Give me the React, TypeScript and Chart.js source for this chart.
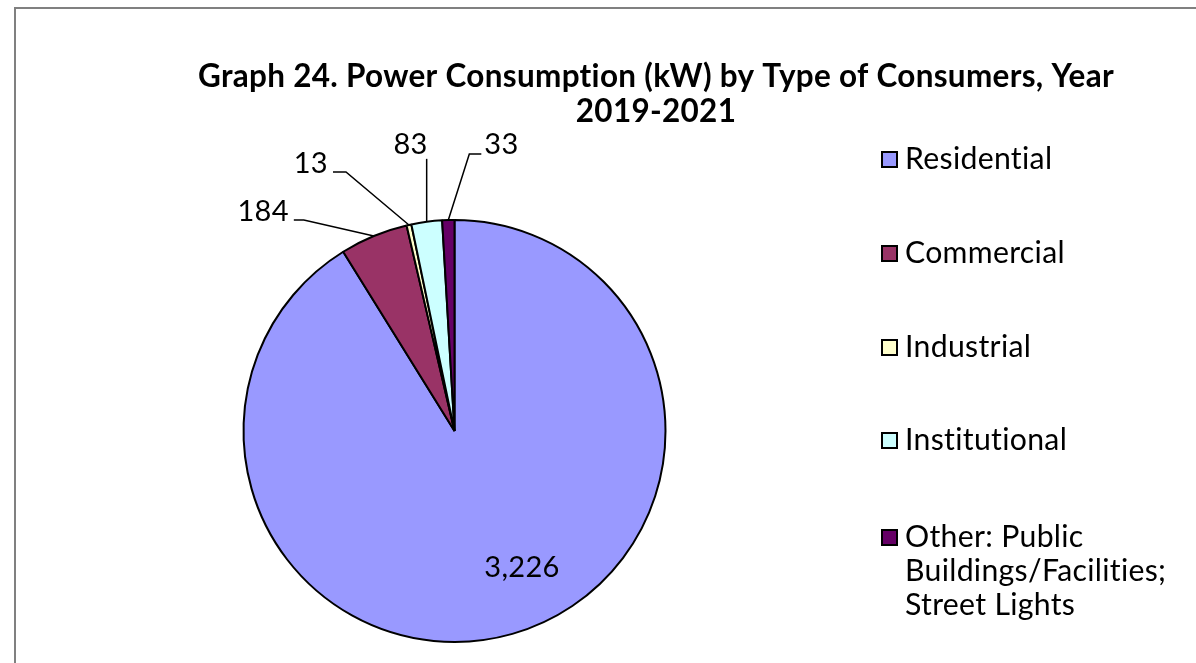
import React, { useEffect, useRef } from "react";
import { Chart, registerables } from "chart.js";

Chart.register(...registerables);

const categories = [
  "Residential",
  "Commercial",
  "Industrial",
  "Institutional",
  "Other: Public Buildings/Facilities; Street Lights",
];
const values = [3226, 184, 13, 83, 33];
const colors = ["#9999FF", "#993366", "#FFFFCC", "#CCFFFF", "#660066"];
const legendLines = [
  ["Residential"],
  ["Commercial"],
  ["Industrial"],
  ["Institutional"],
  ["Other: Public", "Buildings/Facilities;", "Street Lights"],
];
const titleLines = [
  "Graph 24. Power Consumption (kW) by Type of Consumers, Year",
  "2019-2021",
];

const FONT = "Lato";

// label placement (relative to slice edge anchor), leader line elbows
const labelLayout = [
  { inside: true, tx: 67.5, ty: 146, align: "center" as CanvasTextAlign, pts: [] as number[][] },
  { inside: false, tx: -85, ty: -15, align: "right" as CanvasTextAlign, pts: [[-70, -16], [-80, -16]] },
  { inside: false, tx: -81, ty: -52, align: "right" as CanvasTextAlign, pts: [[-63, -53], [-76, -53]] },
  { inside: false, tx: 1, ty: -68, align: "right" as CanvasTextAlign, pts: [[0, -63]] },
  { inside: false, tx: 36, ty: -66, align: "left" as CanvasTextAlign, pts: [[21, -66], [33, -66]] },
];

function setSpacing(ctx: any) {
  try {
    ctx.letterSpacing = "0.3px";
  } catch (e) {}
}

function fitSize(ctx: CanvasRenderingContext2D, text: string, weight: string, target: number) {
  ctx.font = `${weight} 100px ${FONT}`;
  const w = ctx.measureText(text).width;
  return (100 * target) / w;
}

const decorPlugin = {
  id: "decor",
  afterDraw(chart: any) {
    const ctx: CanvasRenderingContext2D = chart.ctx;
    ctx.save();
    setSpacing(ctx);
    // frame
    ctx.fillStyle = "#808080";
    ctx.fillRect(14, 7, 1196 - 14, 2);
    ctx.fillRect(14, 7, 2, 663 - 7);

    // title
    const ts = fitSize(ctx, titleLines[0], "bold", 904);
    ctx.font = `bold ${ts}px ${FONT}`;
    ctx.fillStyle = "#000";
    ctx.textAlign = "center";
    ctx.textBaseline = "alphabetic";
    ctx.fillText(titleLines[0], 656, 87);
    ctx.fillText(titleLines[1], 656, 122);

    // legend
    const ls = fitSize(ctx, "Buildings/Facilities;", "normal", 257);
    const baselines = [169, 263, 357, 450];
    const otherBase = [547, 581, 615];
    legendLines.forEach((lines, i) => {
      const bl = i < 4 ? [baselines[i]] : otherBase;
      ctx.fillStyle = colors[i];
      ctx.fillRect(882, bl[0] - 17, 15, 15);
      ctx.strokeStyle = "#000";
      ctx.lineWidth = 2;
      ctx.strokeRect(882, bl[0] - 17, 15, 15);
      ctx.fillStyle = "#000";
      ctx.font = `normal ${ls}px ${FONT}`;
      ctx.textAlign = "left";
      lines.forEach((ln, j) => ctx.fillText(ln, 905, bl[j]));
    });

    // data labels
    ctx.font = `normal 29px ${FONT}`;
    const meta = chart.getDatasetMeta(0);
    meta.data.forEach((arc: any, i: number) => {
      const p = arc.getProps(["x", "y", "startAngle", "endAngle", "outerRadius"], true);
      const mid = (p.startAngle + p.endAngle) / 2;
      const L = labelLayout[i];
      const txt = values[i].toLocaleString("en-US");
      ctx.textAlign = L.align;
      ctx.fillStyle = "#000";
      if (L.inside) {
        ctx.fillText(txt, p.x + L.tx, p.y + L.ty);
        return;
      }
      const ax = p.x + Math.cos(mid) * p.outerRadius;
      const ay = p.y + Math.sin(mid) * p.outerRadius;
      ctx.strokeStyle = "#000";
      ctx.lineWidth = 1.5;
      ctx.beginPath();
      ctx.moveTo(ax, ay);
      L.pts.forEach(([dx, dy]) => ctx.lineTo(ax + dx, ay + dy));
      ctx.stroke();
      ctx.fillText(txt, ax + L.tx, ay + L.ty);
    });
    ctx.restore();
  },
};

export default function App() {
  const ref = useRef<HTMLCanvasElement>(null);
  useEffect(() => {
    const prev = document.body.style.margin;
    document.body.style.margin = "0";
    const chart = new Chart(ref.current!, {
      type: "pie",
      data: {
        labels: categories,
        datasets: [
          {
            data: values,
            backgroundColor: colors,
            borderColor: "#000",
            borderWidth: 2,
          },
        ],
      },
      options: {
        responsive: false,
        animation: false,
        radius: 211,
        layout: { padding: { left: 242, right: 529, top: 219, bottom: 20 } },
        plugins: {
          legend: { display: false },
          title: { display: false },
          tooltip: { enabled: false },
        },
      } as any,
      plugins: [decorPlugin],
    });
    return () => {
      chart.destroy();
      document.body.style.margin = prev;
    };
  }, []);
  return (
    <div style={{ position: "fixed", left: 0, top: 0, width: 1196, height: 663, background: "#fff" }}>
      <canvas ref={ref} width={1196} height={663} style={{ width: 1196, height: 663 }} />
    </div>
  );
}
